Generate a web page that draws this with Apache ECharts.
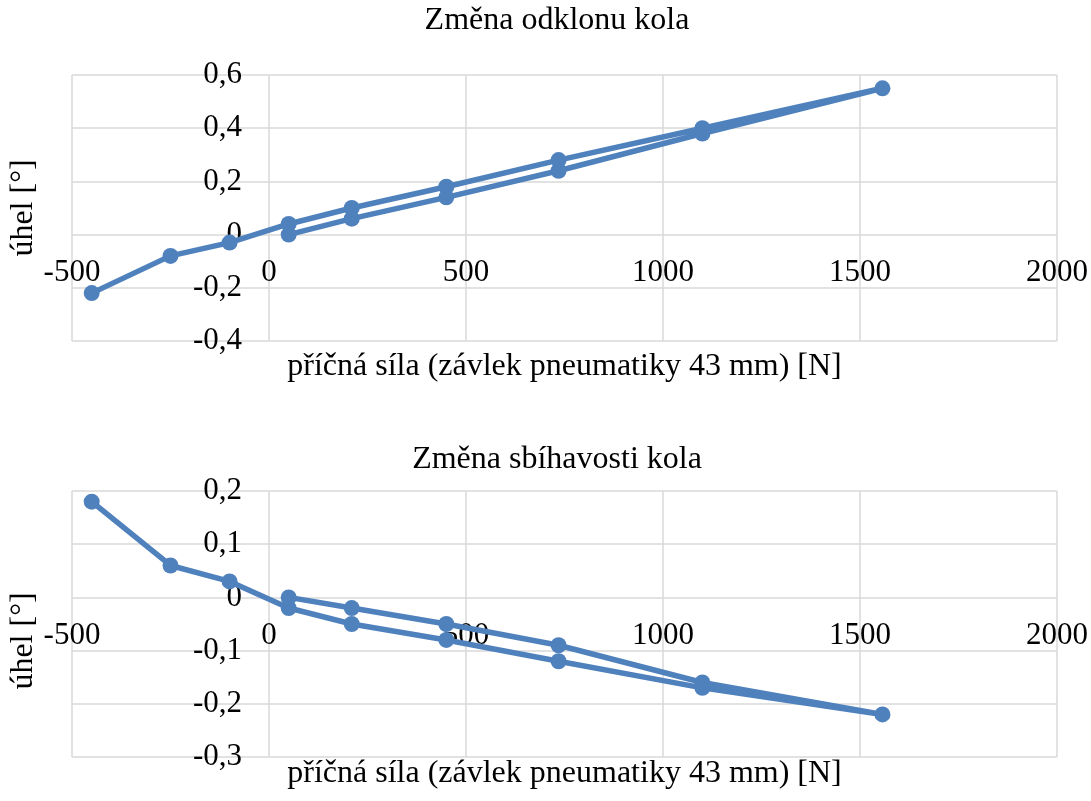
<!DOCTYPE html>
<html>
<head>
<meta charset="utf-8">
<title>Změna odklonu a sbíhavosti kola</title>
<script src="https://cdn.jsdelivr.net/npm/echarts@6/dist/echarts.min.js"></script>
<style>
  html, body { margin: 0; padding: 0; background: #fff; }
  #main { width: 1091px; height: 801px; }
</style>
</head>
<body>
<div id="main"></div>
<script>
// data
var forceValues = [-450, -250, -100, 50, 210, 450, 735, 1100, 1557, 1100, 735, 450, 210, 50];
var camberValues = [-0.22, -0.08, -0.03, 0.04, 0.10, 0.18, 0.28, 0.40, 0.55, 0.38, 0.24, 0.14, 0.06, 0.00];
var toeValues = [0.18, 0.06, 0.03, -0.02, -0.05, -0.08, -0.12, -0.17, -0.22, -0.16, -0.09, -0.05, -0.02, 0.00];
var titles = ['Změna odklonu kola', 'Změna sbíhavosti kola'];
var xName = 'příčná síla (závlek pneumatiky 43 mm) [N]';
var yName = 'úhel [°]';
var xRange = [-500, 2000, 500];
var camberRange = [-0.4, 0.6, 0.2];
var toeRange = [-0.3, 0.2, 0.1];

var FONT = 'Liberation Serif';
var BLUE = '#4f81bd';
var GRID = '#d9d9d9';
var PLOT_W = 985, PLOT_H = 266;

function pairs(xs, ys) {
    var out = [];
    for (var i = 0; i < xs.length; i++) out.push([xs[i], ys[i]]);
    return out;
}

function fmtY(v) {
    if (Math.abs(v) < 1e-9) return '0';
    return v.toFixed(1).replace('.', ',');
}

// axes cross at zero like in Excel: shift each axis from the plot edge to the other axis' zero
function zeroShift(range, size) {
    return -(0 - range[0]) / (range[1] - range[0]) * size;
}

function xAxisCfg(idx, yRange, gap) {
    return {
        type: 'value', gridIndex: idx, position: 'bottom',
        min: xRange[0], max: xRange[1], interval: xRange[2],
        offset: zeroShift(yRange, PLOT_H),
        name: xName, nameLocation: 'middle', nameGap: gap,
        nameTextStyle: { fontFamily: FONT, fontSize: 32, color: '#000' },
        axisLine: { show: false, onZero: false },
        axisTick: { show: false },
        axisLabel: { fontFamily: FONT, fontSize: 31, color: '#000', margin: 23,
                     formatter: function (v) { return String(v); } },
        splitLine: { show: true, lineStyle: { color: GRID, width: 1.5 } }
    };
}

function yAxisCfg(idx, r, pad) {
    return {
        type: 'value', gridIndex: idx, position: 'left',
        min: r[0], max: r[1], interval: r[2],
        offset: zeroShift(xRange, PLOT_W),
        name: yName, nameLocation: 'middle', nameGap: 229,
        nameTextStyle: { fontFamily: FONT, fontSize: 32, color: '#000', padding: pad },
        axisLine: { show: false, onZero: false },
        axisTick: { show: false },
        axisLabel: { fontFamily: FONT, fontSize: 31, color: '#000', margin: 27, formatter: fmtY },
        splitLine: { show: true, lineStyle: { color: GRID, width: 1.5 } }
    };
}

function seriesCfg(idx, ys) {
    return {
        type: 'line', xAxisIndex: idx, yAxisIndex: idx,
        data: pairs(forceValues, ys),
        symbol: 'circle', symbolSize: 16,
        itemStyle: { color: BLUE },
        lineStyle: { color: BLUE, width: 5.5 }
    };
}

var myChart = echarts.init(document.getElementById('main'));
var option = {
    animation: false,
    backgroundColor: '#fff',
    title: [
        { text: titles[0], left: 557, top: 5, textAlign: 'center', padding: 0,
          textStyle: { fontFamily: FONT, fontSize: 32, fontWeight: 'normal', color: '#000' } },
        { text: titles[1], left: 557, top: 444, textAlign: 'center', padding: 0,
          textStyle: { fontFamily: FONT, fontSize: 32, fontWeight: 'normal', color: '#000' } }
    ],
    grid: [
        { left: 72, right: 34, top: 75, height: PLOT_H, containLabel: false, outerBoundsMode: 'none' },
        { left: 72, right: 34, top: 491, height: PLOT_H, containLabel: false, outerBoundsMode: 'none' }
    ],
    xAxis: [xAxisCfg(0, camberRange, 116), xAxisCfg(1, toeRange, 160)],
    yAxis: [yAxisCfg(0, camberRange, [0, 0, 0, 0]), yAxisCfg(1, toeRange, [0, 34, 0, 0])],
    series: [seriesCfg(0, camberValues), seriesCfg(1, toeValues)]
};
myChart.setOption(option);
</script>
</body>
</html>
